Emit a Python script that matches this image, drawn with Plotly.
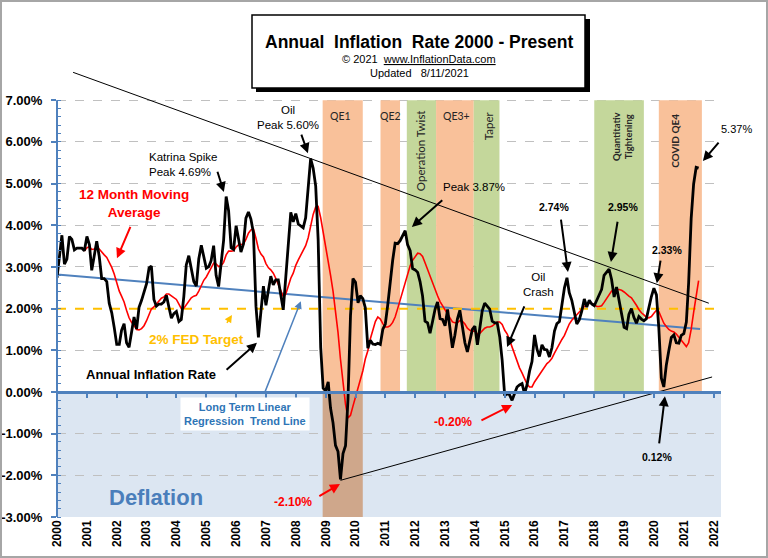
import plotly.graph_objects as go
import pandas as pd
from datetime import datetime, timedelta

# ---------------- data ----------------
rate_start = "2000-01-01"
annual_rate = [
    2.74, 3.22, 3.76, 3.07, 3.19, 3.73, 3.66, 3.41, 3.45, 3.45, 3.45, 3.39,   # 2000
    3.73, 3.53, 2.92, 3.27, 3.62, 3.25, 2.72, 2.72, 2.65, 2.13, 1.90, 1.55,   # 2001
    1.14, 1.14, 1.48, 1.64, 1.18, 1.07, 1.46, 1.80, 1.51, 2.03, 2.20, 2.38,   # 2002
    2.60, 2.98, 3.02, 2.22, 2.06, 2.11, 2.11, 2.16, 2.32, 2.04, 1.77, 1.88,   # 2003
    1.93, 1.69, 1.74, 2.29, 3.05, 3.27, 2.99, 2.65, 2.54, 3.19, 3.52, 3.26,   # 2004
    2.97, 3.01, 3.15, 3.51, 2.80, 2.53, 3.17, 3.64, 4.69, 4.35, 3.46, 3.42,   # 2005
    3.99, 3.60, 3.36, 3.55, 4.17, 4.32, 4.15, 3.82, 2.06, 1.31, 1.97, 2.54,   # 2006
    2.08, 2.42, 2.78, 2.57, 2.69, 2.69, 2.36, 1.97, 2.76, 3.54, 4.31, 4.08,   # 2007
    4.28, 4.03, 3.98, 3.94, 4.18, 5.02, 5.60, 5.37, 4.94, 3.66, 1.07, 0.09,   # 2008
    0.03, 0.24, -0.38, -0.74, -1.28, -1.43, -2.10, -1.48, -1.29, -0.18, 1.84, 2.72,  # 2009
    2.63, 2.14, 2.31, 2.24, 2.02, 1.05, 1.24, 1.15, 1.14, 1.17, 1.14, 1.50,   # 2010
    1.63, 2.11, 2.68, 3.16, 3.57, 3.56, 3.63, 3.77, 3.87, 3.53, 3.39, 2.96,   # 2011
    2.93, 2.87, 2.65, 2.30, 1.70, 1.66, 1.41, 1.69, 1.99, 2.16, 1.76, 1.74,   # 2012
    1.59, 1.98, 1.47, 1.06, 1.36, 1.75, 1.96, 1.52, 1.18, 0.96, 1.24, 1.50,   # 2013
    1.58, 1.13, 1.51, 1.95, 2.13, 2.07, 1.99, 1.70, 1.66, 1.66, 1.32, 0.76,   # 2014
    -0.09, -0.03, -0.07, -0.20, -0.04, 0.12, 0.17, 0.20, -0.04, 0.17, 0.50, 0.73,  # 2015
    1.37, 1.02, 0.85, 1.13, 1.02, 1.01, 0.84, 1.06, 1.46, 1.64, 1.69, 2.07,   # 2016
    2.50, 2.74, 2.38, 2.20, 1.87, 1.63, 1.73, 1.94, 2.23, 2.04, 2.20, 2.11,   # 2017
    2.07, 2.21, 2.36, 2.46, 2.80, 2.87, 2.95, 2.70, 2.28, 2.52, 2.18, 1.91,   # 2018
    1.55, 1.52, 1.86, 2.00, 1.79, 1.65, 1.81, 1.75, 1.71, 1.76, 2.05, 2.29,   # 2019
    2.49, 2.33, 1.54, 0.33, 0.12, 0.65, 0.99, 1.31, 1.37, 1.18, 1.17, 1.36,   # 2020
    1.40, 1.68, 2.62, 4.16, 4.99, 5.39, 5.37,                                 # 2021
]

ma_start = "2000-12-01"
moving_avg = [
    3.38,                                                                     # 2000
    3.46, 3.49, 3.42, 3.43, 3.47, 3.43, 3.35, 3.29, 3.23, 3.12, 2.99, 2.83,   # 2001
    2.62, 2.42, 2.30, 2.16, 1.96, 1.78, 1.67, 1.60, 1.50, 1.49, 1.52, 1.59,   # 2002
    1.71, 1.86, 1.99, 2.04, 2.11, 2.20, 2.25, 2.28, 2.35, 2.35, 2.31, 2.27,   # 2003
    2.22, 2.11, 2.00, 2.01, 2.09, 2.19, 2.26, 2.30, 2.32, 2.42, 2.56, 2.68,   # 2004
    2.76, 2.87, 2.99, 3.09, 3.07, 3.01, 3.03, 3.11, 3.29, 3.38, 3.38, 3.39,   # 2005
    3.48, 3.53, 3.54, 3.55, 3.66, 3.81, 3.89, 3.91, 3.69, 3.43, 3.31, 3.24,   # 2006
    3.08, 2.98, 2.93, 2.85, 2.73, 2.59, 2.44, 2.29, 2.35, 2.53, 2.73, 2.85,   # 2007
    3.04, 3.17, 3.27, 3.39, 3.51, 3.70, 3.97, 4.26, 4.44, 4.45, 4.18, 3.85,   # 2008
    3.49, 3.18, 2.81, 2.42, 1.97, 1.43, 0.79, 0.22, -0.30, -0.62, -0.56, -0.34,  # 2009
    -0.12, 0.04, 0.26, 0.51, 0.79, 0.99, 1.27, 1.49, 1.69, 1.80, 1.75, 1.64,  # 2010
    1.56, 1.56, 1.59, 1.67, 1.80, 2.00, 2.20, 2.42, 2.65, 2.85, 3.03, 3.16,   # 2011
    3.26, 3.33, 3.32, 3.25, 3.10, 2.94, 2.75, 2.58, 2.42, 2.31, 2.17, 2.07,   # 2012
    1.96, 1.89, 1.79, 1.68, 1.66, 1.66, 1.71, 1.70, 1.63, 1.53, 1.48, 1.46,   # 2013
    1.46, 1.39, 1.40, 1.47, 1.53, 1.56, 1.56, 1.58, 1.62, 1.68, 1.68, 1.62,   # 2014
    1.48, 1.39, 1.25, 1.08, 0.89, 0.73, 0.58, 0.46, 0.31, 0.19, 0.12, 0.12,   # 2015
    0.24, 0.33, 0.40, 0.52, 0.60, 0.68, 0.73, 0.81, 0.93, 1.05, 1.15, 1.26,   # 2016
    1.36, 1.50, 1.63, 1.72, 1.79, 1.84, 1.91, 1.99, 2.05, 2.09, 2.13, 2.13,   # 2017
    2.10, 2.05, 2.05, 2.07, 2.15, 2.25, 2.35, 2.42, 2.42, 2.46, 2.46, 2.44,   # 2018
    2.40, 2.34, 2.30, 2.26, 2.18, 2.08, 1.98, 1.90, 1.85, 1.79, 1.78, 1.81,   # 2019
    1.89, 1.96, 1.93, 1.79, 1.65, 1.57, 1.50, 1.46, 1.44, 1.39, 1.31, 1.24,   # 2020
    1.15, 1.09, 1.18, 1.50, 1.91, 2.30, 2.67,                                 # 2021
]

# trend lines (end points)
top_trend_x = ["2000-07-16", "2021-11-03"]
top_trend_y = [7.67, 2.13]
low_trend_x = ["2009-07-01", "2021-12-13"]
low_trend_y = [-2.12, 0.36]
regr_x = ["2000-01-01", "2021-07-19"]
regr_y = [2.82, 1.51]
fed_x = ["2000-01-01", "2022-06-01"]
fed_y = [2.0, 2.0]

# policy bands
band_labels = ["QE1", "QE2", "Operation Twist", "QE3+", "Taper",
               "Quantitativ<br>Tightening", "COVID QE4"]
band_starts = ["2008-11-25", "2010-11-03", "2011-09-21", "2012-09-13",
               "2013-12-18", "2018-01-01", "2020-03-01"]
band_ends = ["2010-03-31", "2011-06-30", "2012-09-13", "2013-12-18",
             "2014-10-29", "2019-08-31", "2021-08-10"]
band_kinds = ["qe", "qe", "tw", "qe", "tw", "tw", "qe"]

year_labels = [str(y) for y in range(2000, 2023)]
y_ticks = list(range(-3, 8))

# ---------------- styling ----------------
W, H = 768, 558
L, R, T, B = 57, 47, 69, 41
PW, PH = W - L - R, H - T - B
FONT = "Arial, 'Liberation Sans', sans-serif"
BAND_FONT = "Lato, 'Open Sans', sans-serif"
AXBLUE = "#4f81bd"
ORANGE = "#f9c19a"
GREEN = "#c4d79b"
BROWN = "#cfa78b"
DEFL = "#dce6f2"
X_RANGE = ["2000-01-01", "2022-04-01"]
Y_RANGE = [-3, 7.75]


def fy(v):
    y = int(v)
    d = datetime(y, 1, 1) + timedelta(days=(v - y) * 365.25)
    return d.strftime("%Y-%m-%d")


def pxx(x):
    return (x - L) / PW


def pxy(y):
    return (H - B - y) / PH


rate_dates = pd.date_range(rate_start, periods=len(annual_rate), freq="MS")
ma_dates = pd.date_range(ma_start, periods=len(moving_avg), freq="MS")
year_dates = [f"{y}-01-01" for y in year_labels]

fig = go.Figure()
fig.add_trace(go.Scatter(x=low_trend_x, y=low_trend_y, mode="lines",
                         line=dict(color="black", width=1), hoverinfo="skip"))
fig.add_trace(go.Scatter(x=regr_x, y=regr_y, mode="lines",
                         line=dict(color=AXBLUE, width=2), hoverinfo="skip"))
fig.add_trace(go.Scatter(x=fed_x, y=fed_y, mode="lines",
                         line=dict(color="#ffc000", width=2, dash="dash"), hoverinfo="skip"))
fig.add_trace(go.Scatter(x=ma_dates, y=moving_avg, mode="lines",
                         line=dict(color="#ff0000", width=1.6)))
fig.add_trace(go.Scatter(x=rate_dates, y=annual_rate, mode="lines",
                         line=dict(color="black", width=2.8)))
fig.add_trace(go.Scatter(x=top_trend_x, y=top_trend_y, mode="lines",
                         line=dict(color="black", width=1), hoverinfo="skip"))
# helper trace so the zero-line axis is drawn
fig.add_trace(go.Scatter(x=[X_RANGE[0]], y=[0], xaxis="x2", mode="markers",
                         marker=dict(opacity=0), hoverinfo="skip"))

shapes = []
# deflation zone
shapes.append(dict(type="rect", xref="x", yref="y", x0=X_RANGE[0], x1=X_RANGE[1],
                   y0=-3, y1=0, fillcolor=DEFL, line=dict(width=0), layer="below"))
for lab, s, e, k in zip(band_labels, band_starts, band_ends, band_kinds):
    shapes.append(dict(type="rect", xref="x", yref="y", x0=s, x1=e, y0=0, y1=7,
                       fillcolor=ORANGE if k == "qe" else GREEN,
                       line=dict(width=0), layer="between"))
# QE1 continues through the deflation zone
shapes.append(dict(type="rect", xref="x", yref="y", x0=band_starts[0], x1=band_ends[0],
                   y0=-3, y1=0, fillcolor=BROWN, line=dict(width=0), layer="between"))
# y axis line
shapes.append(dict(type="line", xref="paper", yref="y", x0=0, x1=0, y0=-3, y1=7,
                   line=dict(color=AXBLUE, width=2), layer="above"))
# title box with shadow
shapes.append(dict(type="rect", xref="paper", yref="paper", x0=pxx(256), x1=pxx(590),
                   y0=pxy(92), y1=pxy(19), fillcolor="black", line=dict(width=0), layer="above"))
shapes.append(dict(type="rect", xref="paper", yref="paper", x0=pxx(252), x1=pxx(585),
                   y0=pxy(88), y1=pxy(15), fillcolor="white",
                   line=dict(color="black", width=1.5), layer="above"))
# outer frame
shapes.append(dict(type="rect", xref="paper", yref="paper", x0=pxx(1), x1=pxx(W - 1),
                   y0=pxy(H - 1), y1=pxy(1), line=dict(color="#a6a6a6", width=2), layer="above"))

ann = []


def txt(text, x, y, color="black", size=11, bold=False, angle=0, family=FONT,
        xref="x", yref="y", align="center", bg=None):
    d = dict(text=text, x=x, y=y, xref=xref, yref=yref, showarrow=False,
             font=dict(family=family, size=size, color=color,
                       weight="bold" if bold else "normal"),
             textangle=angle, align=align, xanchor="center", yanchor="middle")
    if bg:
        d.update(bgcolor=bg, borderpad=3)
    ann.append(d)


def arrow(hx, hy, tx, ty, color="black", width=2):
    ann.append(dict(text="", x=fy(hx), y=hy, ax=fy(tx), ay=ty, xref="x", yref="y",
                    axref="x", ayref="y", showarrow=True, arrowhead=2, arrowsize=1,
                    arrowwidth=width, arrowcolor=color))


# title block
NB = "\u00a0"
txt(f"Annual{NB} Inflation{NB} Rate 2000 - Present", pxx(419), pxy(42), size=17.5,
    bold=True, xref="paper", yref="paper")
txt(f"© 2021{NB} <span style='text-decoration:underline'>www.InflationData.com</span>",
    pxx(419), pxy(59), size=11, xref="paper", yref="paper")
txt(f"Updated{NB}{NB} 8/11/2021", pxx(419), pxy(73), size=11, xref="paper", yref="paper")

# band labels
txt("QE1", fy(2009.51), 6.62, color="#262626", size=10.5, family=BAND_FONT)
txt("QE2", fy(2011.16), 6.62, color="#262626", size=10.5, family=BAND_FONT)
txt("QE3+", fy(2013.37), 6.62, color="#262626", size=10.5, family=BAND_FONT)
txt("Operation Twist", fy(2012.16), 5.80, color="#262626", size=11.5, angle=-90, family=BAND_FONT)
txt("Taper", fy(2014.44), 6.40, color="#262626", size=11.5, angle=-90, family=BAND_FONT)
txt("Quantitativ<br>Tightening", fy(2018.93), 6.14, color="#262626", size=9.5, bold=True,
    angle=-90, family=BAND_FONT)
txt("COVID QE4", fy(2020.70), 6.02, color="#262626", size=10, bold=True, angle=-90,
    family=BAND_FONT)

# callouts
txt("Oil<br>Peak 5.60%", fy(2007.74), 6.59, size=11.5)
arrow(2008.41, 5.73, 2008.17, 6.21)
txt("Katrina Spike<br>Peak 4.69%", fy(2004.22), 5.47, size=11.5, align="left")
arrow(2005.59, 4.80, 2005.36, 5.32)
txt("12 Month Moving<br>Average", fy(2002.58), 4.53, color="#ff0000", size=13.5, bold=True)
arrow(2002.01, 3.21, 2002.48, 4.00, color="#ff0000")
txt("2% FED Target", fy(2004.66), 1.25, color="#ffc000", size=13.5, bold=True)
arrow(2005.86, 1.85, 2005.66, 1.62, color="#ffc000", width=1.5)
txt("Annual Inflation Rate", fy(2003.15), 0.43, size=13, bold=True)
arrow(2006.70, 1.18, 2005.63, 0.50)
txt("Long Term Linear<br>Regression  Trend Line", fy(2006.30), -0.53, color="#2e75b6",
    size=11, bold=True, bg="white")
arrow(2008.17, 2.18, 2006.93, -0.07, color=AXBLUE, width=1.5)
txt("Deflation", fy(2003.32), -2.52, color="#4a7ebb", size=22, bold=True)
txt("-2.10%", fy(2007.91), -2.64, color="#ff0000", size=12, bold=True)
arrow(2009.48, -2.21, 2008.74, -2.52, color="#ff0000")
txt("-0.20%", fy(2013.27), -0.72, color="#ff0000", size=12, bold=True)
arrow(2015.25, -0.31, 2014.17, -0.70, color="#ff0000")
txt("0.12%", fy(2020.10), -1.56, size=10.5, bold=True)
arrow(2020.37, -0.10, 2020.17, -1.27)
txt("Oil<br>Crash", fy(2016.15), 2.57, size=11.5)
arrow(2015.08, 1.08, 2015.68, 2.09)
txt("Peak 3.87%", fy(2013.97), 4.92, size=11.5)
arrow(2011.89, 3.96, 2012.96, 4.63)
txt("2.74%", fy(2016.65), 4.44, size=10.5, bold=True)
arrow(2017.12, 2.88, 2016.88, 4.17)
txt("2.95%", fy(2018.96), 4.44, size=10.5, bold=True)
arrow(2018.56, 3.12, 2018.79, 4.12)
txt("2.33%", fy(2020.44), 3.41, size=10.5, bold=True)
arrow(2020.10, 2.61, 2020.23, 3.19)
txt("5.37%", pxx(736), pxy(129), size=11, xref="paper", yref="paper")
arrow(2021.64, 5.54, 2022.21, 6.02)

fig.update_layout(
    width=W, height=H, margin=dict(l=L, r=R, t=T, b=B, autoexpand=False),
    paper_bgcolor="white", plot_bgcolor="white", showlegend=False,
    shapes=shapes, annotations=ann,
    xaxis=dict(type="date", range=X_RANGE, tickmode="array", tickvals=year_dates,
               ticktext=year_labels, tickangle=-90, showgrid=False, showline=False,
               zeroline=False, ticks="", automargin=False,
               tickfont=dict(family=FONT, size=12, color="black", weight="bold")),
    xaxis2=dict(type="date", range=X_RANGE, overlaying="x", anchor="free",
                position=(0 - Y_RANGE[0]) / (Y_RANGE[1] - Y_RANGE[0]),
                showline=True, linecolor=AXBLUE, linewidth=3, ticks="outside",
                ticklen=4, tickwidth=1.5, tickcolor=AXBLUE, tickmode="array",
                tickvals=year_dates, showticklabels=False, showgrid=False, zeroline=False,
                automargin=False),
    yaxis=dict(range=Y_RANGE, tickmode="array", tickvals=y_ticks,
               ticktext=[f"{v:.2f}%" for v in y_ticks], ticks="outside", ticklen=5,
               tickcolor=AXBLUE, tickwidth=1.5, showline=False, zeroline=False,
               showgrid=True, gridcolor="#c0c0c0", griddash="dash", gridwidth=1,
               ticklabelstandoff=6, automargin=False,
               tickfont=dict(family=FONT, size=13, color="black", weight="bold"),
               minor=dict(tickmode="array",
                          tickvals=[round(-3 + 0.2 * i, 1) for i in range(51)],
                          ticks="inside", ticklen=4, tickcolor=AXBLUE, tickwidth=1,
                          showgrid=False)),
)

fig.write_html("out.html")
